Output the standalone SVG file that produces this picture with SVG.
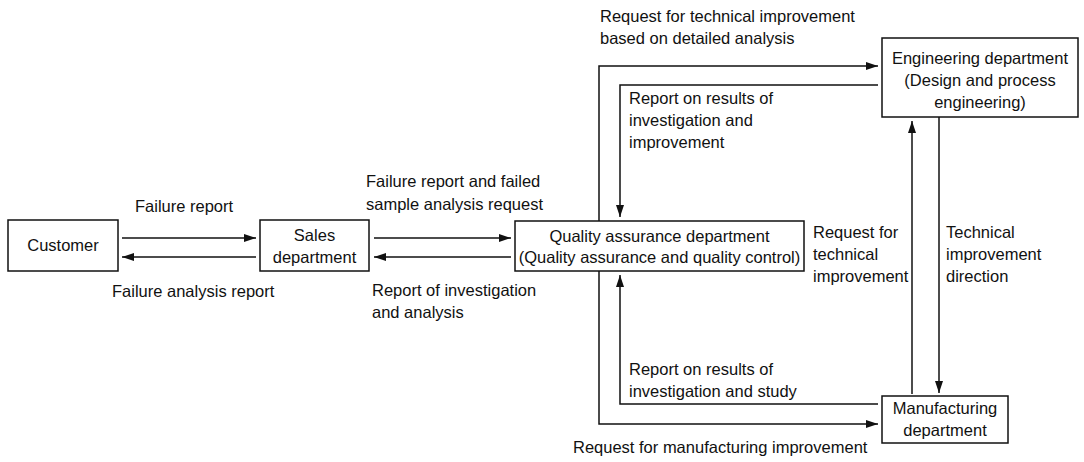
<svg xmlns="http://www.w3.org/2000/svg" width="1084" height="462" viewBox="0 0 1084 462">
<defs>
<style>
text{font-family:"Liberation Sans",Arial,sans-serif;font-size:16.5px;fill:#111}
.c{text-anchor:middle}
.box{fill:#fff;stroke:#111;stroke-width:1.5}
.ln{fill:none;stroke:#111;stroke-width:1.5}
.ar{marker-end:url(#ah)}
</style>
<marker id="ah" markerUnits="userSpaceOnUse" markerWidth="12" markerHeight="8" refX="12" refY="4" orient="auto">
<path d="M0,0 L12,4 L0,8 z" fill="#111"/>
</marker>
</defs>
<rect width="1084" height="462" fill="#fff"/>
<g id="connectors">
<line class="ln ar" x1="122" y1="238" x2="256" y2="238"/>
<line class="ln ar" x1="256" y1="257" x2="122" y2="257"/>
<line class="ln ar" x1="374" y1="238" x2="511" y2="238"/>
<line class="ln ar" x1="511" y1="257" x2="374" y2="257"/>
<polyline class="ln ar" points="599,221 599,66 878,66"/>
<polyline class="ln ar" points="878,85 620,85 620,217"/>
<polyline class="ln ar" points="599,271 599,424 878,424"/>
<polyline class="ln ar" points="878,404 620,404 620,275"/>
<line class="ln ar" x1="912" y1="394" x2="912" y2="121"/>
<line class="ln ar" x1="939" y1="117" x2="939" y2="393"/>
</g>
<g id="labels">
<text x="135" y="212">Failure report</text>
<text x="112" y="297">Failure analysis report</text>
<text x="366" y="187">Failure report and failed</text>
<text x="366" y="210">sample analysis request</text>
<text x="372" y="296">Report of investigation</text>
<text x="372" y="318">and analysis</text>
<text x="600" y="22">Request for technical improvement</text>
<text x="600" y="44">based on detailed analysis</text>
<text x="629" y="104">Report on results of</text>
<text x="629" y="126">investigation and</text>
<text x="629" y="148">improvement</text>
<text x="629" y="375">Report on results of</text>
<text x="629" y="397">investigation and study</text>
<text x="573" y="453">Request for manufacturing improvement</text>
<text x="813" y="238">Request for</text>
<text x="813" y="260">technical</text>
<text x="813" y="282">improvement</text>
<text x="946" y="238">Technical</text>
<text x="946" y="260">improvement</text>
<text x="946" y="282">direction</text>
</g>
<g id="customer">
<rect class="box" x="8" y="220" width="110" height="51"/>
<text class="c" x="63" y="251">Customer</text>
</g>
<g id="sales">
<rect class="box" x="260" y="220" width="109" height="51"/>
<text class="c" x="314.5" y="241">Sales</text>
<text class="c" x="314.5" y="263">department</text>
</g>
<g id="qa">
<rect class="box" x="515" y="221" width="289" height="50"/>
<text class="c" x="659.5" y="242">Quality assurance department</text>
<text class="c" x="659.5" y="263">(Quality assurance and quality control)</text>
</g>
<g id="engineering">
<rect class="box" x="882" y="38" width="196" height="79"/>
<text class="c" x="980" y="64">Engineering department</text>
<text class="c" x="980" y="86">(Design and process</text>
<text class="c" x="980" y="108">engineering)</text>
</g>
<g id="manufacturing">
<rect class="box" x="882" y="396" width="126" height="47"/>
<text class="c" x="945" y="414">Manufacturing</text>
<text class="c" x="945" y="436">department</text>
</g>
</svg>
